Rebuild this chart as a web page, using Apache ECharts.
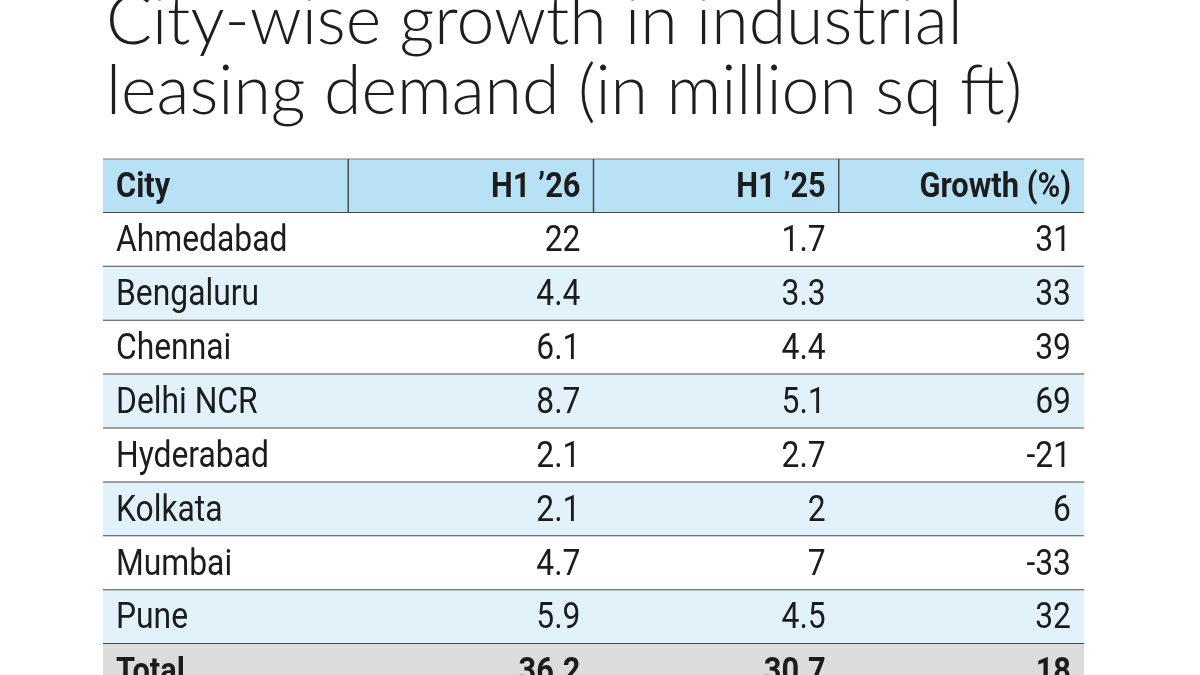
<!DOCTYPE html>
<html>
<head>
<meta charset="utf-8">
<script src="https://cdn.jsdelivr.net/npm/echarts@6/dist/echarts.min.js"></script>
<style>
  html, body { margin: 0; padding: 0; background: #fff; }
  #main { width: 1200px; height: 675px; }
</style>
</head>
<body>
<div id="main"></div>
<script>
var headers = ['City', 'H1 \u201926', 'H1 \u201925', 'Growth (%)'];
var cities = ['Ahmedabad', 'Bengaluru', 'Chennai', 'Delhi NCR', 'Hyderabad', 'Kolkata', 'Mumbai', 'Pune'];
var h126 = [22, 4.4, 6.1, 8.7, 2.1, 2.1, 4.7, 5.9];
var h125 = [1.7, 3.3, 4.4, 5.1, 2.7, 2, 7, 4.5];
var growth = [31, 33, 39, 69, -21, 6, -33, 32];
var total = ['Total', 36.2, 30.7, 18];

// rows of the table: header, cities, total
var rows = [headers];
cities.forEach(function (c, i) {
    rows.push([c, h126[i], h125[i], growth[i]]);
});
rows.push(total);
var rowNames = rows.map(function (r) { return r[0]; });

var bodyFont = 'Roboto, sans-serif';

function renderRow(params, api) {
    var i = api.value(1);
    var left = api.coord([0, i]);
    var right = api.coord([4, i]);
    var h = api.size([0, 1])[1];
    var y0 = left[1] - h / 2;
    var isHeader = i === 0;
    var isTotal = i === rows.length - 1;
    var fill = '#ffffff';
    if (isHeader) fill = '#b7e1f5';
    else if (isTotal) fill = '#dcdcdc';
    else if (i % 2 === 0) fill = '#e1f2fb';

    var children = [{
        type: 'rect',
        shape: { x: left[0], y: y0, width: right[0] - left[0], height: h },
        style: { fill: fill }
    }];
    if (isHeader) {
        children.push({
            type: 'line',
            shape: { x1: left[0], y1: y0, x2: right[0], y2: y0 },
            style: { stroke: '#7a7a7a', lineWidth: 1 }
        });
        for (var k = 1; k < 4; k++) {
            var xk = api.coord([k, i])[0];
            children.push({
                type: 'line',
                shape: { x1: xk, y1: y0, x2: xk, y2: y0 + h },
                style: { stroke: '#4a4a4a', lineWidth: 1.5 }
            });
        }
    }
    if (!isTotal) {
        children.push({
            type: 'line',
            shape: { x1: left[0], y1: y0 + h, x2: right[0], y2: y0 + h },
            style: { stroke: '#4a4a4a', lineWidth: 2 }
        });
    }
    var bold = isHeader || isTotal;
    for (var c = 0; c < 4; c++) {
        var x = c === 0 ? api.coord([0, i])[0] + 13 : api.coord([c + 1, i])[0] - 13;
        children.push({
            type: 'text',
            x: x,
            y: left[1] + 2,
            scaleX: bold ? 0.88 : 0.86,
            style: {
                x: 0,
                y: 0,
                text: String(rows[i][c]),
                align: c === 0 ? 'left' : 'right',
                verticalAlign: 'middle',
                fontFamily: bodyFont,
                fontSize: bold ? 35 : 37,
                fontWeight: bold ? 'bold' : 'normal',
                fill: '#1c1c1c'
            }
        });
    }
    return { type: 'group', children: children };
}

var chart = echarts.init(document.getElementById('main'));
var option = {
    backgroundColor: '#ffffff',
    animation: false,
    title: {
        text: 'City-wise growth in industrial\nleasing demand (in million sq ft)',
        left: 101,
        top: -18,
        textStyle: {
            fontFamily: 'Lato, "Open Sans", sans-serif',
            fontWeight: 300,
            fontSize: 68,
            lineHeight: 70,
            color: '#1e1e1e'
        }
    },
    grid: { left: 103, right: 116, top: 159, height: 539, outerBoundsMode: 'none' },
    xAxis: { type: 'value', min: 0, max: 4, show: false },
    yAxis: { type: 'category', inverse: true, data: rowNames, show: false },
    series: [{
        type: 'custom',
        renderItem: renderRow,
        encode: { x: 0, y: 1 },
        data: rows.map(function (r, i) { return [0, i]; })
    }]
};
chart.setOption(option);
</script>
</body>
</html>
